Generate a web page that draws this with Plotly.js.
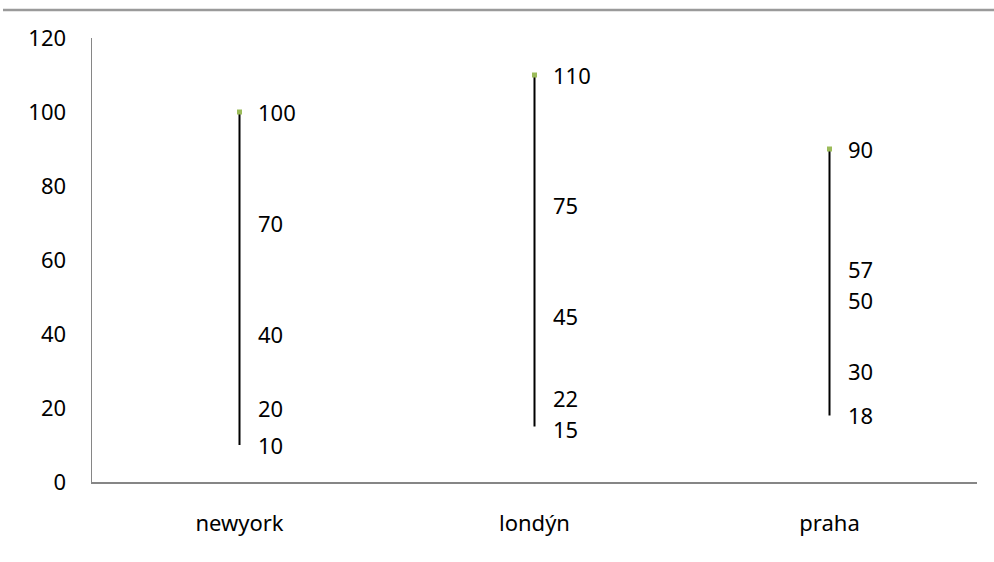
<!DOCTYPE html>
<html>
<head>
<meta charset="utf-8">
<script src="https://cdn.plot.ly/plotly-3.0.1.min.js"></script>
<style>html,body{margin:0;padding:0;background:#fff;}#chart{width:994px;height:562px;}</style>
</head>
<body>
<div id="chart"></div>
<script>
// Data
const categories = ["newyork", "londýn", "praha"];
const series1 = [10, 15, 18];
const series2 = [20, 22, 30];
const series3 = [40, 45, 50];
const series4 = [70, 75, 57];
const series5 = [100, 110, 90];
const yTickVals = [0, 20, 40, 60, 80, 100, 120];

const allSeries = [series1, series2, series3, series4, series5];
const FONT = "Noto Sans, Open Sans, sans-serif";
const FS = 22;
const PX_PER_UNIT = 444 / 120;
const MIN_GAP_PX = 31;

const traces = [];
// high-low lines
categories.forEach((c, i) => {
  const vals = allSeries.map(s => s[i]);
  traces.push({
    type: "scatter", mode: "lines",
    x: [c, c], y: [Math.min(...vals), Math.max(...vals)],
    line: {color: "#000000", width: 2},
    hoverinfo: "skip", showlegend: false, cliponaxis: false
  });
});
// top markers
traces.push({
  type: "scatter", mode: "markers",
  x: categories, y: series5,
  marker: {symbol: "square", size: 5, color: "#9BBB59"},
  showlegend: false, cliponaxis: false
});

// data labels, nudging apart labels that sit too close together
const annotations = [];
categories.forEach((c, i) => {
  const vals = allSeries.map(s => s[i]).sort((a, b) => a - b);
  const shifts = vals.map(() => 0);
  for (let k = 1; k < vals.length; k++) {
    const gap = (vals[k] - vals[k - 1]) * PX_PER_UNIT;
    if (gap < MIN_GAP_PX) {
      const d = (MIN_GAP_PX - gap) / 2;
      shifts[k] += d;
      shifts[k - 1] -= d;
    }
  }
  vals.forEach((v, k) => {
    annotations.push({
      x: c, y: v, xref: "x", yref: "y",
      text: String(v), showarrow: false,
      xanchor: "left", yanchor: "middle", xshift: 17, yshift: shifts[k],
      borderpad: 0,
      font: {family: FONT, size: FS, color: "#000"}
    });
  });
});

const layout = {
  width: 994, height: 562,
  margin: {l: 92, r: 17, t: 38, b: 80},
  paper_bgcolor: "#ffffff", plot_bgcolor: "#ffffff",
  showlegend: false,
  font: {family: FONT, size: FS, color: "#000"},
  xaxis: {
    type: "category", range: [-0.5, 2.5],
    showgrid: false, zeroline: false,
    showline: true, linecolor: "#868686", linewidth: 1.5,
    ticks: "", ticklabelstandoff: 21,
    tickfont: {family: FONT, size: FS, color: "#000"},
    fixedrange: true
  },
  yaxis: {
    range: [0, 120], tickvals: yTickVals,
    showgrid: false, zeroline: false,
    showline: true, linecolor: "#868686", linewidth: 1.5,
    ticks: "", ticklabelstandoff: 20,
    tickfont: {family: FONT, size: FS, color: "#000"},
    fixedrange: true
  },
  shapes: [{
    type: "line", xref: "paper", yref: "paper",
    x0: -89/885, x1: 17/885 + 1, y0: 1 + 28/444, y1: 1 + 28/444,
    line: {color: "#9a9a9a", width: 2.5}
  }],
  annotations: annotations
};

Plotly.newPlot("chart", traces, layout, {displayModeBar: false, staticPlot: true});
</script>
</body>
</html>
